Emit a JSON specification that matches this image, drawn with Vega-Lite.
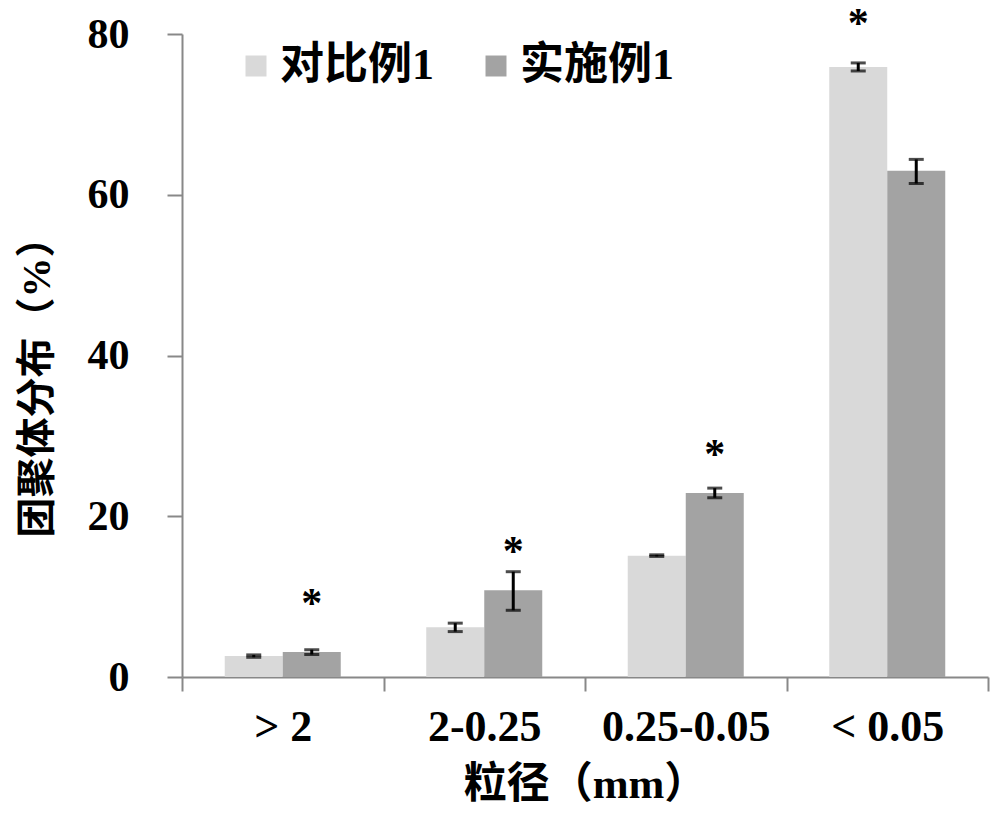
{
  "$schema": "https://vega.github.io/schema/vega-lite/v6.json",
  "autosize": "none",
  "width": 806,
  "height": 643,
  "padding": {"left": 182, "top": 34, "right": 12, "bottom": 138},
  "background": "white",
  "config": {
    "view": {"stroke": null},
    "font": "Liberation Serif, Noto Sans CJK SC"
  },
  "data": {
    "values": [
      {"size": "> 2", "group": "对比例1", "value": 2.6, "lo": 2.45, "hi": 2.75, "star": null},
      {"size": "> 2", "group": "实施例1", "value": 3.1, "lo": 2.8, "hi": 3.4, "star": 9.95},
      {"size": "2-0.25", "group": "对比例1", "value": 6.2, "lo": 5.65, "hi": 6.7, "star": null},
      {"size": "2-0.25", "group": "实施例1", "value": 10.8, "lo": 8.3, "hi": 13.1, "star": 16.4},
      {"size": "0.25-0.05", "group": "对比例1", "value": 15.1, "lo": 15.0, "hi": 15.2, "star": null},
      {"size": "0.25-0.05", "group": "实施例1", "value": 22.9, "lo": 22.3, "hi": 23.5, "star": 28.5},
      {"size": "< 0.05", "group": "对比例1", "value": 75.9, "lo": 75.4, "hi": 76.4, "star": 82.1},
      {"size": "< 0.05", "group": "实施例1", "value": 63.0, "lo": 61.4, "hi": 64.4, "star": null}
    ]
  },
  "encoding": {
    "x": {
      "field": "size", "type": "nominal",
      "sort": ["> 2", "2-0.25", "0.25-0.05", "< 0.05"],
      "scale": {"paddingInner": 0, "paddingOuter": 0},
      "axis": {
        "title": "粒径（mm）",
        "labelAngle": 0,
        "tickBand": "extent",
        "domainColor": "#888888", "domainWidth": 2,
        "tickColor": "#888888", "tickWidth": 2, "tickSize": 14,
        "labelFont": "Liberation Serif", "labelFontSize": 44, "labelFontWeight": "bold",
        "labelColor": "black", "labelPadding": 14,
        "titleFont": "Liberation Serif, Noto Sans CJK SC", "titleFontSize": 43, "titleFontWeight": "bold",
        "titleColor": "black", "titleBaseline": "middle", "titleY": 107
      }
    },
    "xOffset": {
      "field": "group", "type": "nominal",
      "sort": ["对比例1", "实施例1"],
      "scale": {"paddingInner": 0, "paddingOuter": 0.737}
    }
  },
  "layer": [
    {
      "mark": {"type": "bar"},
      "encoding": {
        "y": {
          "field": "value", "type": "quantitative",
          "scale": {"domain": [0, 80], "nice": false},
          "axis": {
            "title": "团聚体分布（%）",
            "values": [0, 20, 40, 60, 80],
            "grid": false,
            "domainColor": "#888888", "domainWidth": 2,
            "tickColor": "#888888", "tickWidth": 2, "tickSize": 15,
            "labelFont": "Liberation Serif", "labelFontSize": 42, "labelFontWeight": "bold",
            "labelColor": "black", "labelPadding": 38,
            "titleFont": "Liberation Serif, Noto Sans CJK SC", "titleFontSize": 40, "titleFontWeight": "bold",
            "titleColor": "black", "titleBaseline": "middle", "titleX": -145, "titleY": 343
          }
        },
        "color": {
          "field": "group", "type": "nominal",
          "sort": ["对比例1", "实施例1"],
          "scale": {"domain": ["对比例1", "实施例1"], "range": ["#d9d9d9", "#a3a3a3"]},
          "legend": {
            "title": null,
            "orient": "none",
            "direction": "horizontal",
            "legendX": 52,
            "legendY": 10,
            "symbolType": "square",
            "symbolSize": 440,
            "symbolStrokeWidth": 0,
            "labelFont": "Liberation Serif, Noto Sans CJK SC",
            "labelFontSize": 44,
            "labelFontWeight": "bold",
            "labelColor": "black",
            "labelOffset": 2,
            "columnPadding": 40
          }
        }
      }
    },
    {
      "mark": {"type": "rule", "color": "black", "strokeWidth": 3},
      "encoding": {
        "y": {"field": "lo", "type": "quantitative"},
        "y2": {"field": "hi"}
      }
    },
    {
      "mark": {"type": "tick", "color": "black", "thickness": 3, "size": 15, "orient": "horizontal"},
      "encoding": {
        "y": {"field": "lo", "type": "quantitative"}
      }
    },
    {
      "mark": {"type": "tick", "color": "black", "thickness": 3, "size": 15, "orient": "horizontal"},
      "encoding": {
        "y": {"field": "hi", "type": "quantitative"}
      }
    },
    {
      "transform": [{"filter": "datum.star != null"}],
      "mark": {"type": "text", "text": "*", "font": "Liberation Serif", "fontSize": 42, "fontWeight": "bold", "color": "black", "baseline": "middle", "dy": 7},
      "encoding": {
        "y": {"field": "star", "type": "quantitative"}
      }
    }
  ]
}
